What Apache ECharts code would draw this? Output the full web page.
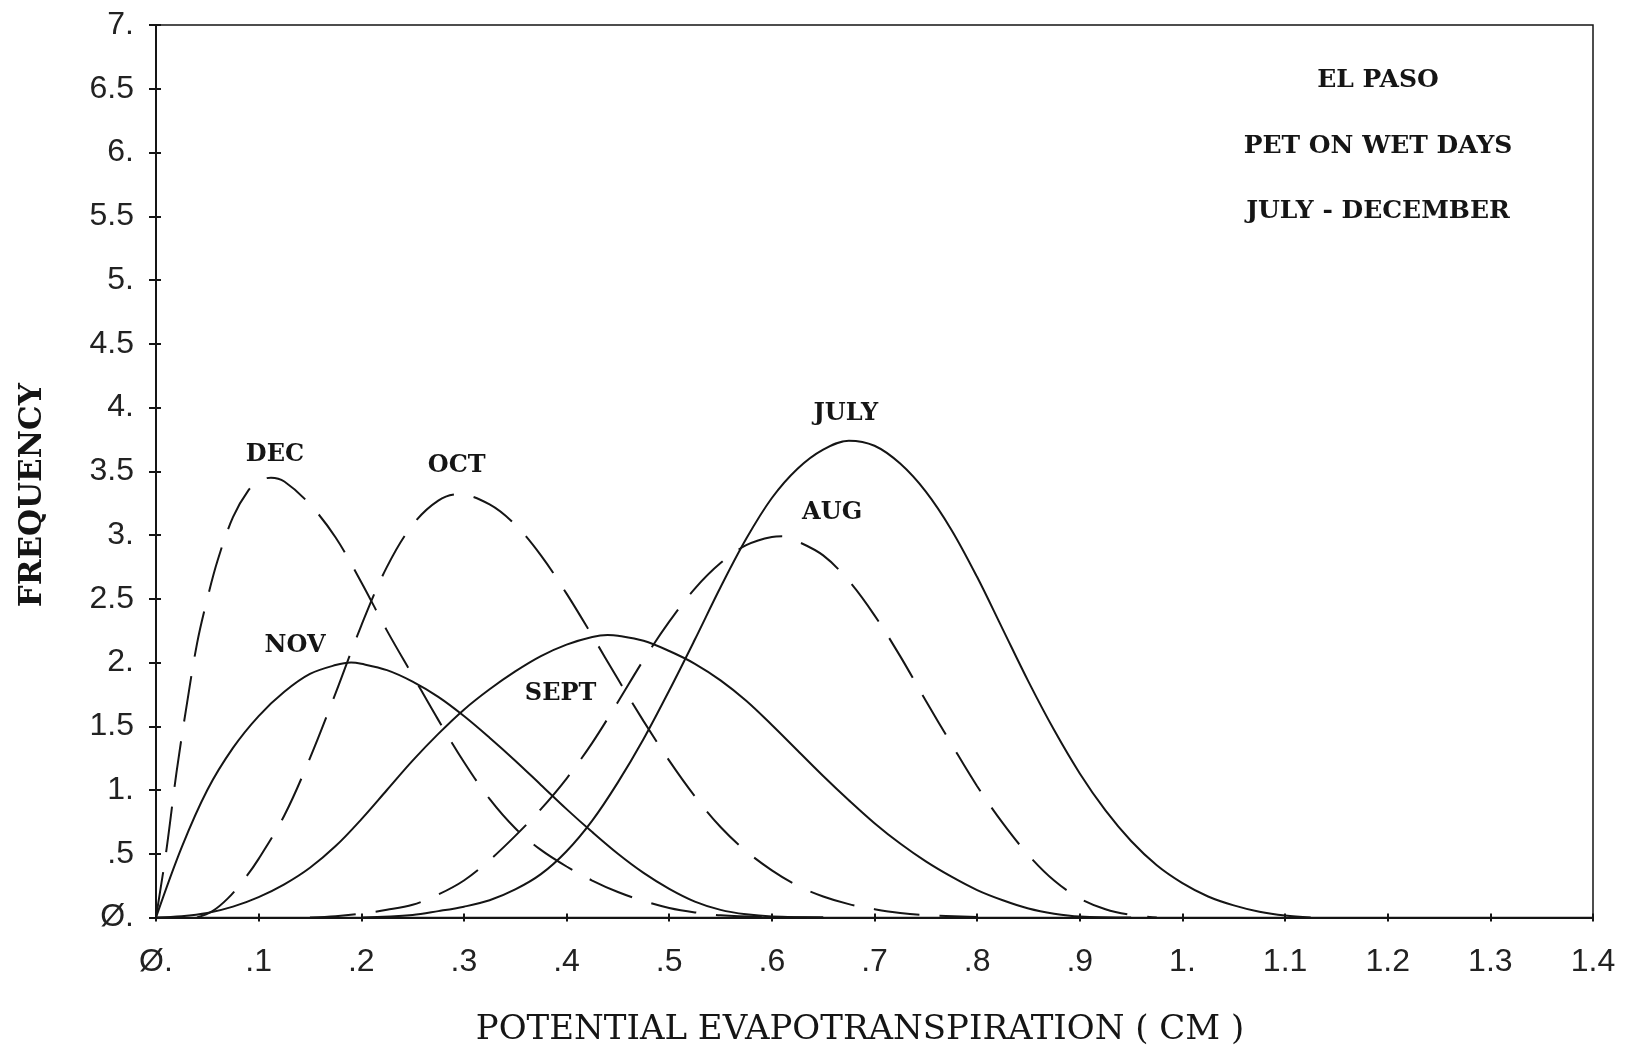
<!DOCTYPE html>
<html><head><meta charset="utf-8">
<script src="https://cdn.jsdelivr.net/npm/echarts@6/dist/echarts.min.js"></script>
<style>html,body{margin:0;padding:0;background:#fff}#c{width:1631px;height:1051px}</style>
</head><body><div id="c"></div>
<script>
// ---- tick labels ----
const xTickLabels = ['Ø.','.1','.2','.3','.4','.5','.6','.7','.8','.9','1.','1.1','1.2','1.3','1.4'];
const yTickLabels = ['Ø.','.5','1.','1.5','2.','2.5','3.','3.5','4.','4.5','5.','5.5','6.','6.5','7.'];

// ---- series names ----
const seriesNames = ['JULY','AUG','SEPT','OCT','NOV','DEC'];

// ---- DEC (dashed) ----
const decX = [0,0.01,0.02,0.03,0.04,0.05,0.06,0.075,0.09,0.1,0.112,0.125,0.15,0.175,0.2,0.225,0.25,0.275,0.3,0.325,0.35,0.375,0.4,0.425,0.45,0.475,0.5,0.525,0.55,0.6,0.65];
const decY = [0,0.52,1.14,1.67,2.15,2.5,2.8,3.14,3.35,3.42,3.45,3.42,3.24,2.98,2.63,2.25,1.9,1.55,1.22,0.93,0.7,0.53,0.4,0.29,0.2,0.13,0.075,0.04,0.018,0.004,0];

// ---- NOV (solid) ----
const novX = [0,0.025,0.05,0.075,0.1,0.125,0.15,0.175,0.19,0.2,0.225,0.25,0.275,0.3,0.325,0.35,0.375,0.4,0.425,0.45,0.475,0.5,0.525,0.55,0.575,0.6,0.65];
const novY = [0,0.55,1.0,1.33,1.58,1.77,1.91,1.98,2.0,1.99,1.94,1.85,1.73,1.58,1.41,1.23,1.04,0.85,0.67,0.5,0.35,0.225,0.125,0.06,0.025,0.008,0];

// ---- OCT (dashed) ----
const octX = [0.04,0.055,0.07,0.085,0.1,0.125,0.15,0.175,0.2,0.225,0.25,0.275,0.295,0.325,0.35,0.375,0.4,0.425,0.45,0.475,0.5,0.525,0.55,0.575,0.6,0.625,0.65,0.675,0.7,0.725,0.75,0.8];
const octY = [0,0.05,0.15,0.29,0.46,0.8,1.25,1.76,2.29,2.75,3.08,3.27,3.32,3.24,3.08,2.84,2.54,2.21,1.87,1.54,1.23,0.95,0.71,0.52,0.37,0.25,0.165,0.105,0.065,0.035,0.018,0.003];

// ---- SEPT (solid) ----
const sepX = [0,0.025,0.05,0.075,0.1,0.125,0.15,0.175,0.2,0.225,0.25,0.275,0.3,0.325,0.35,0.375,0.4,0.425,0.44,0.45,0.475,0.5,0.525,0.55,0.575,0.6,0.625,0.65,0.675,0.7,0.725,0.75,0.775,0.8,0.825,0.85,0.875,0.9,0.95];
const sepY = [0,0.01,0.035,0.085,0.16,0.26,0.39,0.56,0.77,1.0,1.23,1.44,1.63,1.79,1.93,2.05,2.14,2.2,2.215,2.21,2.17,2.09,1.99,1.86,1.7,1.51,1.31,1.11,0.92,0.74,0.58,0.44,0.32,0.215,0.135,0.07,0.03,0.008,0];

// ---- AUG (dashed) ----
const augX = [0.15,0.175,0.2,0.225,0.25,0.275,0.3,0.325,0.35,0.375,0.4,0.425,0.45,0.475,0.5,0.525,0.55,0.575,0.6,0.61,0.625,0.65,0.675,0.7,0.725,0.75,0.775,0.8,0.825,0.85,0.875,0.9,0.925,0.95,0.975];
const augY = [0,0.01,0.03,0.06,0.1,0.18,0.29,0.45,0.64,0.85,1.09,1.37,1.69,2.02,2.32,2.58,2.78,2.92,2.985,2.99,2.95,2.84,2.64,2.37,2.05,1.7,1.36,1.03,0.74,0.49,0.29,0.15,0.065,0.02,0];

// ---- JULY (solid) ----
const julX = [0.2,0.25,0.275,0.3,0.325,0.35,0.375,0.4,0.425,0.45,0.475,0.5,0.525,0.55,0.575,0.6,0.625,0.65,0.675,0.7,0.725,0.75,0.775,0.8,0.825,0.85,0.875,0.9,0.925,0.95,0.975,1.0,1.025,1.05,1.075,1.1,1.125];
const julY = [0,0.02,0.05,0.085,0.135,0.22,0.34,0.52,0.76,1.06,1.4,1.78,2.18,2.59,2.97,3.29,3.52,3.67,3.74,3.7,3.56,3.34,3.04,2.67,2.26,1.85,1.47,1.13,0.84,0.6,0.41,0.27,0.165,0.095,0.045,0.015,0];

const zip = (xs, ys) => xs.map((x, i) => [x, ys[i]]);
const INK = '#151515';
const serifBold = { fontFamily: 'DejaVu Serif', fontWeight: 'bold', color: INK };

function curve(name, xs, ys, dashed, offset) {
  return {
    type: 'line', name: name, data: zip(xs, ys),
    xAxisIndex: 0, yAxisIndex: 0,
    showSymbol: false, smooth: 0.35, silent: true,
    lineStyle: { color: INK, width: 2, type: dashed ? [46, 20] : 'solid' },
    markPoint: {
      symbol: 'circle', symbolSize: 1,
      itemStyle: { color: 'rgba(0,0,0,0)' },
      data: [{ type: 'max', valueDim: 'y' }],
      label: Object.assign({ show: true, position: 'inside', offset: offset, formatter: name, fontSize: 24 }, serifBold)
    }
  };
}

const tickFont = { fontFamily: 'Liberation Sans', fontSize: 32, color: '#222', lineHeight: 32 };
const titleStyle = Object.assign({ fontSize: 25, lineHeight: 26 }, serifBold);

const chart = echarts.init(document.getElementById('c'), null, { renderer: 'canvas' });
chart.setOption({
  animation: false,
  backgroundColor: '#fff',
  title: [
    { text: 'EL PASO', left: 1378, top: 67, textAlign: 'center', padding: 0, textStyle: titleStyle },
    { text: 'PET ON WET DAYS', left: 1378, top: 133, textAlign: 'center', padding: 0, textStyle: titleStyle },
    { text: 'JULY - DECEMBER', left: 1378, top: 198, textAlign: 'center', padding: 0, textStyle: titleStyle }
  ],
  grid: { left: 156, right: 38, top: 25, bottom: 133.5, show: true, borderColor: INK, borderWidth: 1.5, backgroundColor: 'transparent', outerBoundsMode: 'none' },
  xAxis: [
    {
      type: 'value', min: 0, max: 1.4, interval: 0.1, position: 'bottom',
      axisLine: { show: true, onZero: false, lineStyle: { color: INK, width: 2 } },
      axisTick: { show: true, inside: false, length: 4, lineStyle: { color: INK, width: 2 } },
      axisLabel: Object.assign({ margin: 29, formatter: v => xTickLabels[Math.round(v / 0.1)] }, tickFont),
      splitLine: { show: false },
      name: 'POTENTIAL EVAPOTRANSPIRATION ( CM )', nameLocation: 'middle', nameGap: 96,
      nameTextStyle: { fontFamily: 'DejaVu Serif', fontSize: 34, lineHeight: 34, color: INK, padding: [0, 29, 0, 0] }
    },
    {
      type: 'value', min: 0, max: 1.4, interval: 0.1, position: 'bottom',
      axisLine: { show: false },
      axisTick: { show: true, inside: true, length: 4, lineStyle: { color: INK, width: 2 } },
      axisLabel: { show: false }, splitLine: { show: false }
    }
  ],
  yAxis: [
    {
      type: 'value', min: 0, max: 7, interval: 0.5, position: 'left',
      axisLine: { show: true, onZero: false, lineStyle: { color: INK, width: 2 } },
      axisTick: { show: true, inside: false, length: 7, lineStyle: { color: INK, width: 2 } },
      axisLabel: Object.assign({ margin: 22, formatter: v => yTickLabels[Math.round(v / 0.5)] }, tickFont),
      splitLine: { show: false },
      name: 'FREQUENCY', nameLocation: 'middle', nameRotate: 90, nameGap: 107,
      nameTextStyle: Object.assign({ fontSize: 31, lineHeight: 32, padding: [0, 48, 0, 0] }, serifBold)
    },
    {
      type: 'value', min: 0, max: 7, interval: 0.5, position: 'left',
      axisLine: { show: false },
      axisTick: { show: true, inside: true, length: 5, lineStyle: { color: INK, width: 2 } },
      axisLabel: { show: false }, splitLine: { show: false }
    }
  ],
  series: [
    curve(seriesNames[0], julX, julY, false, [-3, -27]),
    curve(seriesNames[1], augX, augY, true, [50, -24]),
    curve(seriesNames[2], sepX, sepY, false, [-47, 59]),
    curve(seriesNames[3], octX, octY, true, [-2, -28]),
    curve(seriesNames[4], novX, novY, false, [-56, -17]),
    curve(seriesNames[5], decX, decY, true, [4, -23])
  ]
});
</script>
</body></html>
